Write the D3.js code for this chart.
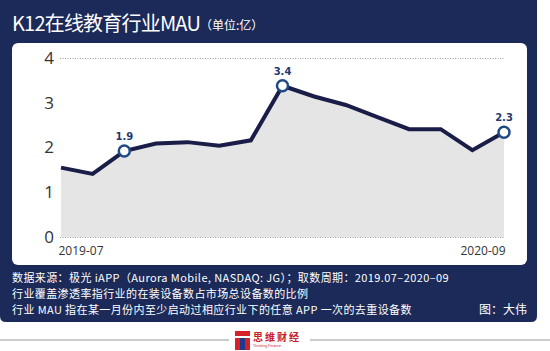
<!DOCTYPE html>
<html>
<head>
<meta charset="utf-8">
<script src="https://cdn.jsdelivr.net/npm/d3@7"></script>
<style>
  body { margin: 0; background: #fff; }
  svg { display: block; font-family: "Noto Sans CJK SC", "Noto Sans", sans-serif; }
</style>
</head>
<body>
<div id="chart"></div>
<script>
// data (unit: 100 million)
const months = ["2019-07", "2019-08", "2019-09", "2019-10", "2019-11", "2019-12", "2020-01",
	"2020-02", "2020-03", "2020-04", "2020-05", "2020-06", "2020-07", "2020-08", "2020-09"];
const mau = [1.55, 1.41, 1.92, 2.09, 2.12, 2.04, 2.16, 3.38, 3.14, 2.95, 2.68, 2.41, 2.41, 1.94, 2.34];
const labelled = ["2019-09", "2020-02", "2020-09"];
const yTicks = [0, 1, 2, 3, 4];
const xTickLabels = ["2019-07", "2020-09"];

const title = "K12在线教育行业MAU";
const unit = "（单位:亿）";
const notes = [
	"数据来源：极光 iAPP（Aurora Mobile, NASDAQ: JG）；取数周期：2019.07–2020–09",
	"行业覆盖渗透率指行业的在装设备数占市场总设备数的比例",
	"行业 MAU 指在某一月份内至少启动过相应行业下的任意 APP 一次的去重设备数",
];
const credit = "图：大伟";

const width = 550;
const height = 351;
const navy = "#1b2a58";

const svg = d3.select("#chart")
	.append("svg")
	.attr("width", width)
	.attr("height", height)
	.attr("viewBox", `0 0 ${width} ${height}`);

// dark panel with rounded bottom corners
svg.append("path")
	.attr("d", "M0,0 H537 V316 Q537,322 531,322 H6 Q0,322 0,316 Z")
	.attr("fill", navy);

// white card
svg.append("rect")
	.attr("x", 12)
	.attr("y", 43)
	.attr("width", 515)
	.attr("height", 222)
	.attr("rx", 6)
	.attr("fill", "#fff");

// title
const titleText = svg.append("text")
	.attr("x", 12)
	.attr("y", 31)
	.attr("fill", "#fff");
titleText.append("tspan")
	.attr("font-size", 20)
	.attr("letter-spacing", -0.8)
	.text(title);
titleText.append("tspan")
	.attr("font-size", 12)
	.attr("dy", -1)
	.text(unit);

const x = d3.scalePoint()
	.domain(months)
	.range([61, 504]);

const y = d3.scaleLinear()
	.domain([0, 4])
	.range([237, 58]);

// y axis: labels for every tick, dotted grid only at 0 and 4
const yAxis = svg.append("g")
	.attr("transform", "translate(60,0)")
	.call(d3.axisLeft(y).tickValues(yTicks).tickSize(-445).tickPadding(6).tickFormat(d3.format("d")));
yAxis.select(".domain").remove();
yAxis.selectAll(".tick line")
	.attr("stroke", (d) => (d === 0 || d === 4 ? "#9a9a9a" : "none"))
	.attr("stroke-width", 1)
	.attr("stroke-dasharray", "1,1.5");
yAxis.selectAll(".tick text")
	.attr("font-size", 17)
	.attr("font-family", "'Open Sans', sans-serif")
	.attr("fill", "#333");

// area and line
const area = d3.area()
	.x((d, i) => x(months[i]))
	.y0(y(0))
	.y1((d) => y(d));

const line = d3.line()
	.x((d, i) => x(months[i]))
	.y((d) => y(d));

svg.append("path")
	.datum(mau)
	.attr("d", area)
	.attr("fill", "#e5e5e5");

svg.append("path")
	.datum(mau)
	.attr("d", line)
	.attr("fill", "none")
	.attr("stroke", "#1a1d48")
	.attr("stroke-width", 4)
	.attr("stroke-linejoin", "miter");

// x labels
const xAxis = svg.append("g")
	.attr("transform", "translate(0,242)")
	.call(d3.axisBottom(x).tickValues(xTickLabels).tickSize(0).tickPadding(0));
xAxis.select(".domain").remove();
xAxis.selectAll(".tick text")
	.attr("font-size", 12)
	.attr("font-family", "'Open Sans', sans-serif")
	.attr("fill", "#333")
	.attr("dy", "1.1em")
	.attr("text-anchor", (d, i) => (i === 0 ? "start" : "end"))
	.attr("dx", (d, i) => (i === 0 ? -3 : 1));

// marked points
const marked = months
	.map((m, i) => ({ month: m, value: mau[i] }))
	.filter((d) => labelled.includes(d.month));

svg.append("g")
	.selectAll("circle")
	.data(marked)
	.join("circle")
	.attr("cx", (d) => x(d.month))
	.attr("cy", (d) => y(d.value))
	.attr("r", 5.5)
	.attr("fill", "#fff")
	.attr("stroke", "#1f4a86")
	.attr("stroke-width", 2.5);

svg.append("g")
	.selectAll("text")
	.data(marked)
	.join("text")
	.attr("x", (d) => x(d.month))
	.attr("y", (d) => y(d.value) - 11)
	.attr("text-anchor", "middle")
	.attr("font-size", 10)
	.attr("font-weight", "bold")
	.attr("font-family", "'DejaVu Sans', sans-serif")
	.attr("fill", "#1f3a6e")
	.text((d) => d3.format(".1f")(d.value));

// footnotes
svg.append("g")
	.selectAll("text")
	.data(notes)
	.join("text")
	.attr("x", 12)
	.attr("y", (d, i) => 282 + i * 16)
	.attr("font-size", 11)
	.attr("letter-spacing", 0.4)
	.attr("fill", "#fff")
	.text((d) => d);

svg.append("text")
	.attr("x", 527)
	.attr("y", 314)
	.attr("text-anchor", "end")
	.attr("font-size", 12)
	.attr("fill", "#fff")
	.text(credit);

// bottom rule and logo
svg.append("line")
	.attr("x1", 0).attr("x2", 229)
	.attr("y1", 340).attr("y2", 340)
	.attr("stroke", "#bbb").attr("stroke-width", 1.5);
svg.append("line")
	.attr("x1", 310).attr("x2", 550)
	.attr("y1", 340).attr("y2", 340)
	.attr("stroke", "#bbb").attr("stroke-width", 1.5);

const logo = svg.append("g").attr("transform", "translate(235,331)");
logo.append("rect").attr("width", 15).attr("height", 19).attr("fill", "#d8202a");
logo.append("rect").attr("y", 5).attr("width", 15).attr("height", 2).attr("fill", "#fff");
logo.append("rect").attr("x", 5).attr("y", 7).attr("width", 5).attr("height", 12).attr("fill", "#1d3b8a");
logo.append("text")
	.attr("x", 18)
	.attr("y", 10)
	.attr("font-size", 10)
	.attr("font-weight", "bold")
	.attr("letter-spacing", 2)
	.attr("fill", "#c8202a")
	.text("思维财经");
logo.append("text")
	.attr("x", 18)
	.attr("y", 16)
	.attr("font-size", 3.5)
	.attr("fill", "#c8202a")
	.text("Thinking Finance");
</script>
</body>
</html>
